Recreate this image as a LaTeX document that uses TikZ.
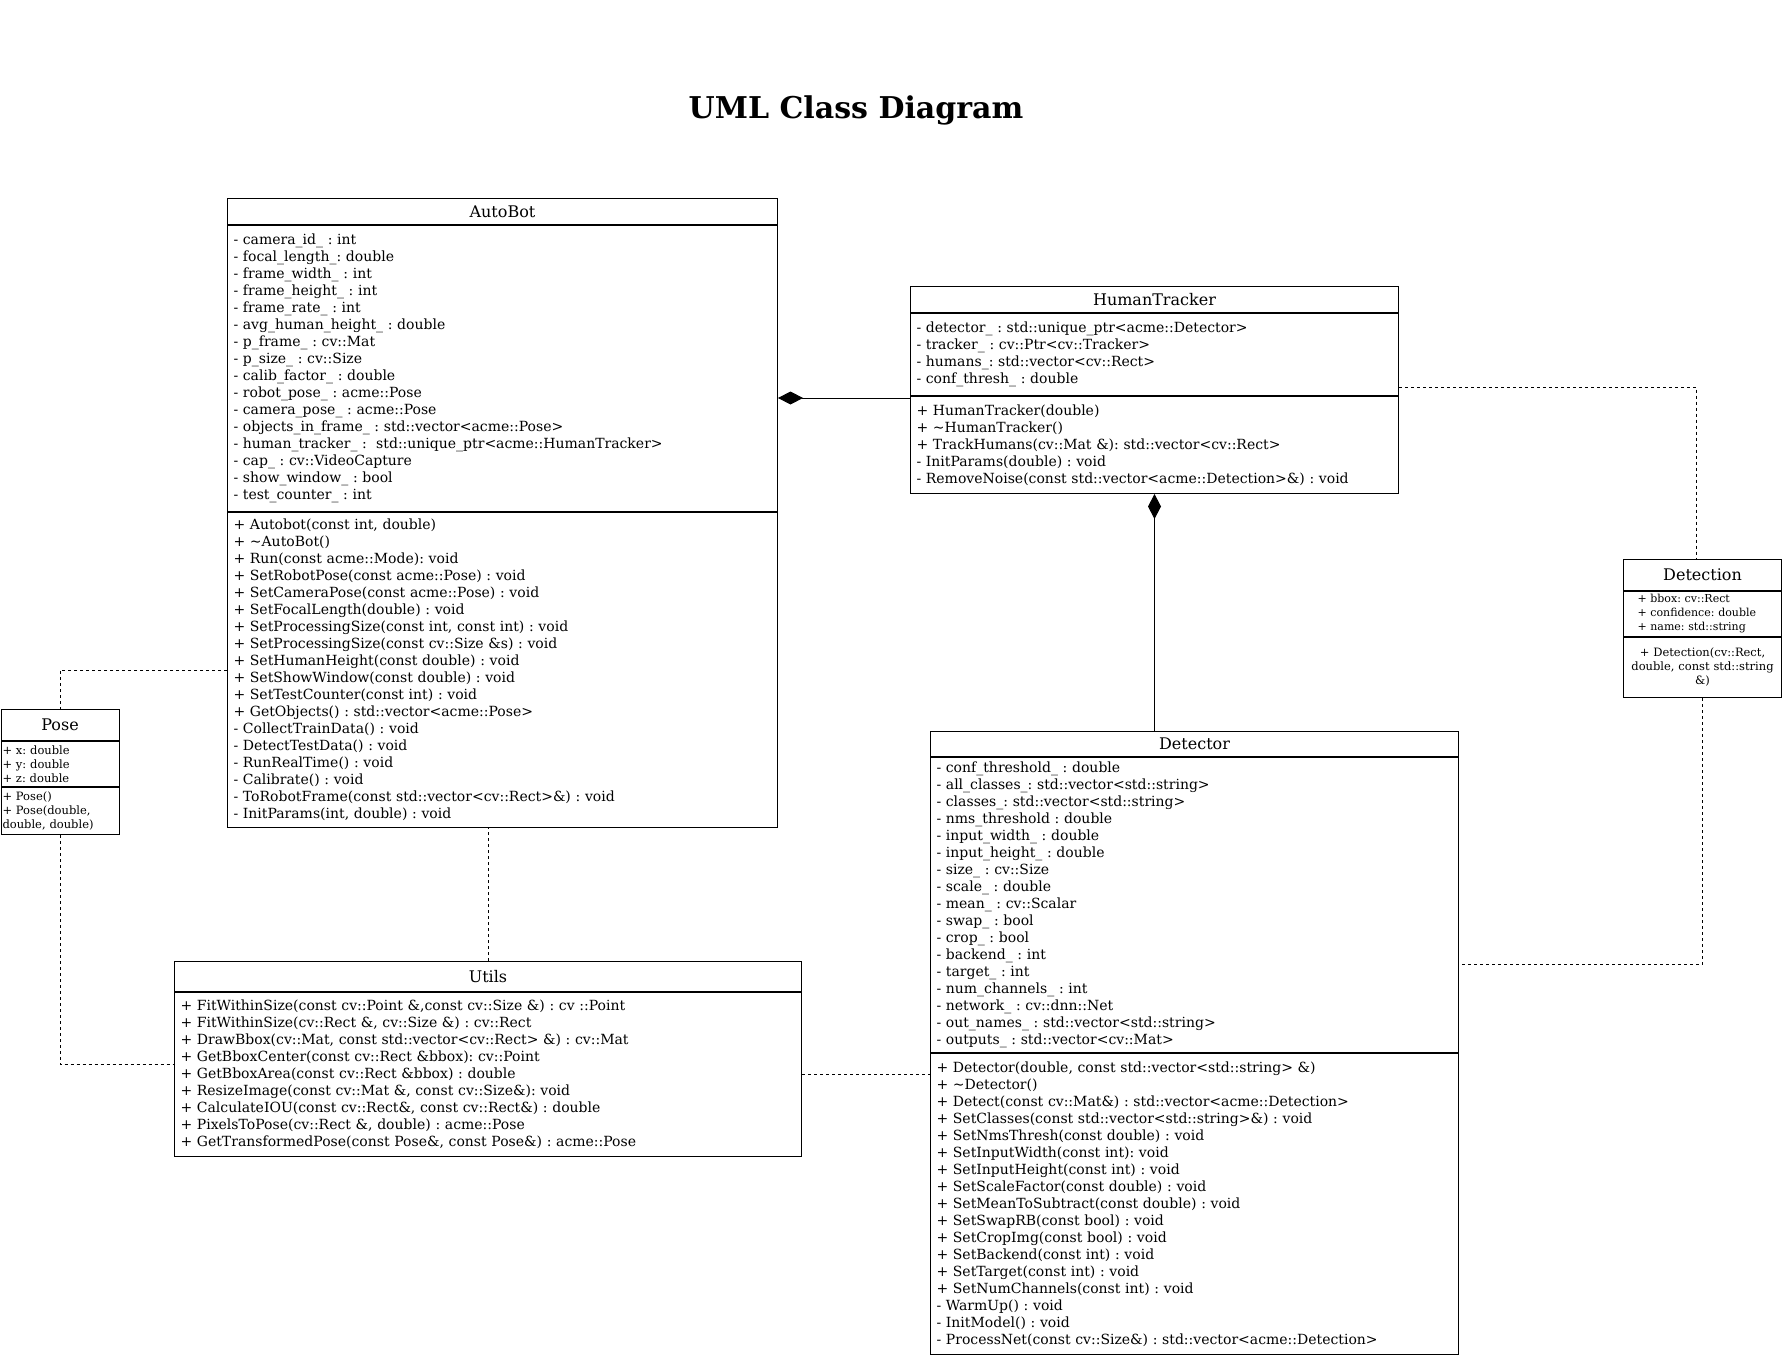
\documentclass[tikz,border=0pt]{standalone}
\usepackage{fontspec}
\setmainfont{DejaVu Serif}
\frenchspacing
\usetikzlibrary{arrows.meta,positioning,calc}

\begin{document}
\begin{tikzpicture}[x=1pt, y=-1pt, line width=1pt,
    head/.style={draw, anchor=north west, inner sep=0pt, font=\fontsize{16}{19}\selectfont},
    part/.style={draw, anchor=north west, inner xsep=6pt, inner ysep=0pt, align=left, font=\fontsize{14}{17}\selectfont},
    smallpart/.style={part, inner xsep=1.5pt, font=\fontsize{11.5}{14}\selectfont},
    dep/.style={dash pattern=on 3pt off 3pt},
    comp/.style={-{Diamond[length=25pt, width=13pt]}}]
    \useasboundingbox (0,0) rectangle (1782,1356);

    % Title
    \node[font=\bfseries\fontsize{30}{36}\selectfont] (title) at (856,110) {UML Class Diagram};

    % AutoBot
    \node[head, minimum width=550, minimum height=26] (abHead) at (227,198) {AutoBot};
    \node[part, text width=538, minimum height=286] (abAttr) at (abHead.south west) {%
        - camera\_id\_ : int\\
        - focal\_length\_: double\\
        - frame\_width\_ : int\\
        - frame\_height\_ : int\\
        - frame\_rate\_ : int\\
        - avg\_human\_height\_ : double\\
        - p\_frame\_ : cv::Mat\\
        - p\_size\_ : cv::Size\\
        - calib\_factor\_ : double\\
        - robot\_pose\_ : acme::Pose\\
        - camera\_pose\_ : acme::Pose\\
        - objects\_in\_frame\_ : std::vector<acme::Pose>\\
        - human\_tracker\_ : \ std::unique\_ptr<acme::HumanTracker>\\
        - cap\_ : cv::VideoCapture\\
        - show\_window\_ : bool\\
        - test\_counter\_ : int};
    \node[part, text width=538, minimum height=315] (abOps) at (abAttr.south west) {%
        + Autobot(const int, double)\\
        + \textasciitilde AutoBot()\\
        + Run(const acme::Mode): void\\
        + SetRobotPose(const acme::Pose) : void\\
        + SetCameraPose(const acme::Pose) : void\\
        + SetFocalLength(double) : void\\
        + SetProcessingSize(const int, const int) : void\\
        + SetProcessingSize(const cv::Size \&s) : void\\
        + SetHumanHeight(const double) : void\\
        + SetShowWindow(const double) : void\\
        + SetTestCounter(const int) : void\\
        + GetObjects() : std::vector<acme::Pose>\\
        - CollectTrainData() : void\\
        - DetectTestData() : void\\
        - RunRealTime() : void\\
        - Calibrate() : void\\
        - ToRobotFrame(const std::vector<cv::Rect>\&) : void\\
        - InitParams(int, double) : void};

    % HumanTracker
    \node[head, minimum width=488, minimum height=26] (htHead) at (910,286) {HumanTracker};
    \node[part, text width=476, minimum height=82] (htAttr) at (htHead.south west) {%
        - detector\_ : std::unique\_ptr<acme::Detector>\\
        - tracker\_ : cv::Ptr<cv::Tracker>\\
        - humans\_: std::vector<cv::Rect>\\
        - conf\_thresh\_ : double};
    \node[part, text width=476, minimum height=97] (htOps) at (htAttr.south west) {%
        + HumanTracker(double)\\
        + \textasciitilde HumanTracker()\\
        + TrackHumans(cv::Mat \&): std::vector<cv::Rect>\\
        - InitParams(double) : void\\
        - RemoveNoise(const std::vector<acme::Detection>\&) : void};

    % Detection
    \node[head, minimum width=158, minimum height=31] (dnHead) at (1623,559) {Detection};
    \node[smallpart, inner xsep=14pt, text width=130, minimum height=45,
          font=\fontsize{11}{14}\selectfont] (dnAttr) at (dnHead.south west) {%
        + bbox: cv::Rect\\
        + confidence: double\\
        + name: std::string};
    \node[smallpart, inner xsep=3pt, text width=152, minimum height=60, align=center] (dnOps) at (dnAttr.south west) {%
        + Detection(cv::Rect,\\
        double, const std::string\\
        \&)};

    % Pose
    \node[head, minimum width=118, minimum height=31] (poseHead) at (0.5,709) {Pose};
    \node[smallpart, text width=115, minimum height=45] (poseAttr) at (poseHead.south west) {%
        + x: double\\
        + y: double\\
        + z: double};
    \node[smallpart, text width=115, minimum height=47] (poseOps) at (poseAttr.south west) {%
        + Pose()\\
        + Pose(double,\\
        double, double)};

    % Utils
    \node[head, minimum width=627, minimum height=30] (utHead) at (174,961) {Utils};
    \node[part, text width=615, minimum height=164] (utOps) at (utHead.south west) {%
        + FitWithinSize(const cv::Point \&,const cv::Size \&) : cv ::Point\\
        + FitWithinSize(cv::Rect \&, cv::Size \&) : cv::Rect\\
        + DrawBbox(cv::Mat, const std::vector<cv::Rect> \&) : cv::Mat\\
        + GetBboxCenter(const cv::Rect \&bbox): cv::Point\\
        + GetBboxArea(const cv::Rect \&bbox) : double\\
        + ResizeImage(const cv::Mat \&, const cv::Size\&): void\\
        + CalculateIOU(const cv::Rect\&, const cv::Rect\&) : double\\
        + PixelsToPose(cv::Rect \&, double) : acme::Pose\\
        + GetTransformedPose(const Pose\&, const Pose\&) : acme::Pose};

    % Detector
    \node[head, minimum width=528, minimum height=25] (detHead) at (930,731) {Detector};
    \node[part, text width=516, minimum height=295] (detAttr) at (detHead.south west) {%
        - conf\_threshold\_ : double\\
        - all\_classes\_: std::vector<std::string>\\
        - classes\_: std::vector<std::string>\\
        - nms\_threshold : double\\
        - input\_width\_ : double\\
        - input\_height\_ : double\\
        - size\_ : cv::Size\\
        - scale\_ : double\\
        - mean\_ : cv::Scalar\\
        - swap\_ : bool\\
        - crop\_ : bool\\
        - backend\_ : int\\
        - target\_ : int\\
        - num\_channels\_ : int\\
        - network\_ : cv::dnn::Net\\
        - out\_names\_ : std::vector<std::string>\\
        - outputs\_ : std::vector<cv::Mat>};
    \node[part, text width=516, minimum height=301] (detOps) at (detAttr.south west) {%
        + Detector(double, const std::vector<std::string> \&)\\
        + \textasciitilde Detector()\\
        + Detect(const cv::Mat\&) : std::vector<acme::Detection>\\
        + SetClasses(const std::vector<std::string>\&) : void\\
        + SetNmsThresh(const double) : void\\
        + SetInputWidth(const int): void\\
        + SetInputHeight(const int) : void\\
        + SetScaleFactor(const double) : void\\
        + SetMeanToSubtract(const double) : void\\
        + SetSwapRB(const bool) : void\\
        + SetCropImg(const bool) : void\\
        + SetBackend(const int) : void\\
        + SetTarget(const int) : void\\
        + SetNumChannels(const int) : void\\
        - WarmUp() : void\\
        - InitModel() : void\\
        - ProcessNet(const cv::Size\&) : std::vector<acme::Detection>};

    % Compositions
    \coordinate (htJoin) at ($(htOps.north west)+(0,2)$);
    \draw[comp] (htJoin) -- (htJoin -| abAttr.east);
    \draw[comp] (htOps.south |- detHead.north) -- (htOps.south);

    % Dependencies
    \coordinate (htOut) at ($(htOps.north east)+(0,-9)$);
    \coordinate (dnIn) at ($(dnHead.north)+(-6,0)$);
    \coordinate (detIn) at ($(detAttr.south east)+(0,-89)$);
    \coordinate (utIn) at ($(utOps.west)+(0,-10)$);
    \draw[dep] (htOut) -| (dnIn);
    \draw[dep] (dnOps.south) |- (detIn);
    \draw[dep] (abOps.west) -| (poseHead.north);
    \draw[dep] (utHead.north) -- (utHead.north |- abOps.south);
    \draw[dep] (poseOps.south) |- (utIn);
    \draw[dep] (utOps.east) -- (utOps.east -| detOps.west);
\end{tikzpicture}
\end{document}
